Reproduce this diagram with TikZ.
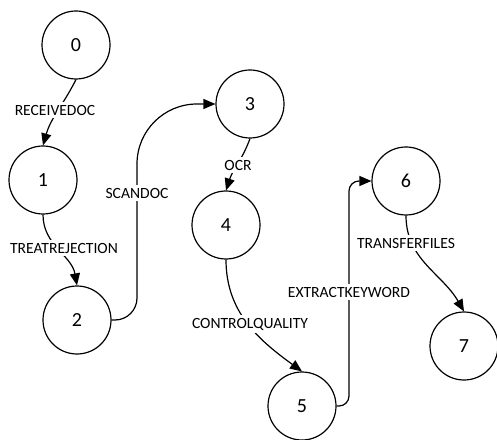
\documentclass[tikz,border=0pt]{standalone}
\usepackage{fontspec}
\setmainfont{Carlito}
\usetikzlibrary{arrows.meta}

\tikzset{
    state/.style={circle, draw, line width=0.6pt, minimum size=34pt, inner sep=0pt, font=\fontsize{10}{12}\selectfont},
    trans/.style={fill=white, inner sep=1.5pt, font=\fontsize{7.8}{9}\selectfont},
    flow/.style={line width=0.6pt, -{Triangle[length=6pt,width=5pt]}},
}

\begin{document}
\begin{tikzpicture}[x=0.5pt, y=0.5pt]
    \useasboundingbox (0,0) rectangle (497,439);

    % States
    \node[state] (s0) at (76,394) {0};
    \node[state] (s1) at (43,259) {1};
    \node[state] (s2) at (77,119) {2};
    \node[state] (s3) at (250,335) {3};
    \node[state] (s4) at (226,214) {4};
    \node[state] (s5) at (302,33) {5};
    \node[state] (s6) at (406,258) {6};
    \node[state] (s7) at (464,93) {7};

    % Where the labels of the bent transitions sit
    \coordinate (c23) at (137,246);
    \coordinate (c56) at (349,147);

    % Transitions
    \draw[flow] (s0.south) to[out=-117,in=74] (s1.north);
    \draw[flow] (s1.south) to[out=-90,in=100] (s2.north);
    \draw[flow] (s2.east) [rounded corners=11pt] -| (c23) [rounded corners=30pt] |- (s3.west);
    \draw[flow] (s3.south) to[out=-110,in=72] (s4.north);
    \draw[flow] (s4.south) to[out=-90,in=144] (s5.north);
    \draw[flow, rounded corners=5pt] (s5.east) -| (c56) |- (s6.west);
    \draw[flow] (s6.south) to[out=-90,in=120] (s7.north);

    % Transition labels
    \node[trans] (t01) at (55,329) {RECEIVEDOC};
    \node[trans] (t12) at (64,191) {TREATREJECTION};
    \node[trans] (t23) at (c23) {SCANDOC};
    \node[trans] (t34) at (238,274) {OCR};
    \node[trans] (t45) at (250,115) {CONTROLQUALITY};
    \node[trans] (t56) at (c56) {EXTRACTKEYWORD};
    \node[trans] (t67) at (406,196) {TRANSFERFILES};
\end{tikzpicture}
\end{document}
